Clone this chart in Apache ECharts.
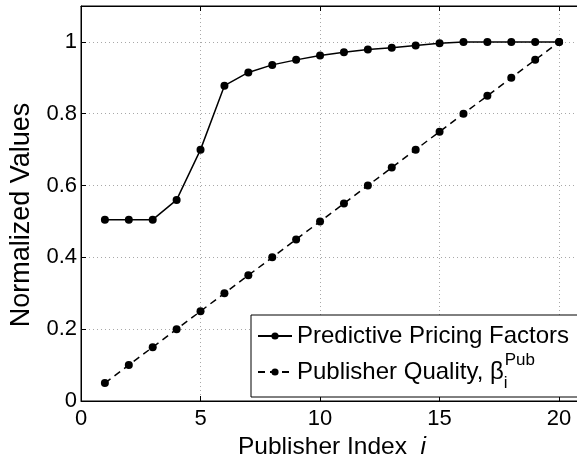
<!DOCTYPE html>
<html>
<head>
<meta charset="utf-8">
<script src="https://cdn.jsdelivr.net/npm/echarts@6/dist/echarts.min.js"></script>
<style>
  html, body { margin: 0; padding: 0; background: #fff; }
  #chart { width: 577px; height: 458px; }
</style>
</head>
<body>
<div id="chart"></div>
<script>
var publisherIndex = [1, 2, 3, 4, 5, 6, 7, 8, 9, 10, 11, 12, 13, 14, 15, 16, 17, 18, 19, 20]
var pricingFactors = [0.505, 0.505, 0.505, 0.56, 0.70, 0.878, 0.915, 0.936, 0.95, 0.962,
  0.971, 0.979, 0.984, 0.99, 0.996, 1.0, 1.0, 1.0, 1.0, 1.0]
var publisherQuality = [0.05, 0.10, 0.15, 0.20, 0.25, 0.30, 0.35, 0.40, 0.45, 0.50,
  0.55, 0.60, 0.65, 0.70, 0.75, 0.80, 0.85, 0.90, 0.95, 1.0]
var seriesNames = ['Predictive Pricing Factors', 'Publisher Quality']

var font = "'Liberation Sans', Arial, Helvetica, sans-serif"
var gridLine = { show: true, lineStyle: { color: '#a8a8a8', width: 1, type: [1, 3] } }
var tick = { show: true, inside: true, length: 5, lineStyle: { color: '#000' } }

function pairs(ys) {
  return publisherIndex.map(function(x, i) { return [x, ys[i]] })
}

var chart = echarts.init(document.getElementById('chart'), null, { renderer: 'canvas' })

chart.setOption({
  animation: false,
  backgroundColor: '#fff',
  textStyle: { fontFamily: font, color: '#000' },
  grid: {
    left: 81, top: 6, width: 502, height: 395,
    outerBoundsMode: 'none',
    containLabel: false,
    show: true, borderColor: '#000', borderWidth: 1, backgroundColor: '#fff'
  },
  legend: {
    orient: 'vertical',
    left: 251,
    top: 315,
    padding: [9, 40, 5, 6],
    itemGap: 4,
    itemWidth: 34,
    itemHeight: 9,
    backgroundColor: '#fff',
    borderColor: '#000',
    borderWidth: 1,
    borderRadius: 0,
    data: seriesNames,
    formatter: function(name) {
      if (name === seriesNames[0]) return '{a|' + name + '}'
      return '{b|Publisher Quality, β}{sub|i}{sup|Pub}'
    },
    textStyle: {
      fontFamily: font,
      color: '#000',
      rich: {
        a: { fontSize: 24, lineHeight: 30, fontFamily: font, color: '#000' },
        b: { fontSize: 24, lineHeight: 40, fontFamily: font, color: '#000', verticalAlign: 'middle' },
        sub: { fontSize: 17, lineHeight: 16, width: 1, fontFamily: font, color: '#000', verticalAlign: 'bottom' },
        sup: { fontSize: 17, lineHeight: 16, fontFamily: font, color: '#000', verticalAlign: 'top' }
      }
    }
  },
  xAxis: [
    {
      type: 'value',
      min: 0, max: 21, interval: 5,
      name: '{a|Publisher Index  }{b|i}',
      nameLocation: 'middle',
      nameGap: 31,
      nameTextStyle: {
        rich: {
          a: { fontSize: 24.5, fontFamily: font, color: '#000' },
          b: { fontSize: 24.5, fontFamily: font, fontStyle: 'italic', color: '#000' }
        }
      },
      axisLine: { show: true, lineStyle: { color: '#000', width: 1 } },
      axisTick: tick,
      axisLabel: { fontSize: 22, color: '#000', margin: 7, showMaxLabel: false, fontFamily: font },
      splitLine: gridLine
    },
    {
      type: 'value',
      position: 'top',
      min: 0, max: 21, interval: 5,
      axisLine: { show: true, lineStyle: { color: '#000', width: 1 } },
      axisTick: tick,
      axisLabel: { show: false },
      splitLine: { show: false }
    }
  ],
  yAxis: {
    type: 'value',
    min: 0, max: 1.1, interval: 0.2,
    name: 'Normalized Values',
    nameLocation: 'middle',
    nameGap: 44,
    nameTextStyle: { fontSize: 27, color: '#000', fontFamily: font, padding: [0, 23, 0, 0] },
    axisLine: { show: true, lineStyle: { color: '#000', width: 1 } },
    axisTick: tick,
    axisLabel: { fontSize: 22, color: '#000', margin: 4, showMaxLabel: false, fontFamily: font },
    splitLine: gridLine
  },
  series: [
    {
      name: seriesNames[0],
      type: 'line',
      data: pairs(pricingFactors),
      symbol: 'circle',
      symbolSize: 8,
      itemStyle: { color: '#000' },
      lineStyle: { color: '#000', width: 1.5, type: 'solid' },
      z: 3
    },
    {
      name: seriesNames[1],
      type: 'line',
      data: pairs(publisherQuality),
      symbol: 'circle',
      symbolSize: 8,
      itemStyle: { color: '#000' },
      lineStyle: { color: '#000', width: 1.5, type: [7, 5] },
      z: 2
    }
  ]
})
</script>
</body>
</html>
